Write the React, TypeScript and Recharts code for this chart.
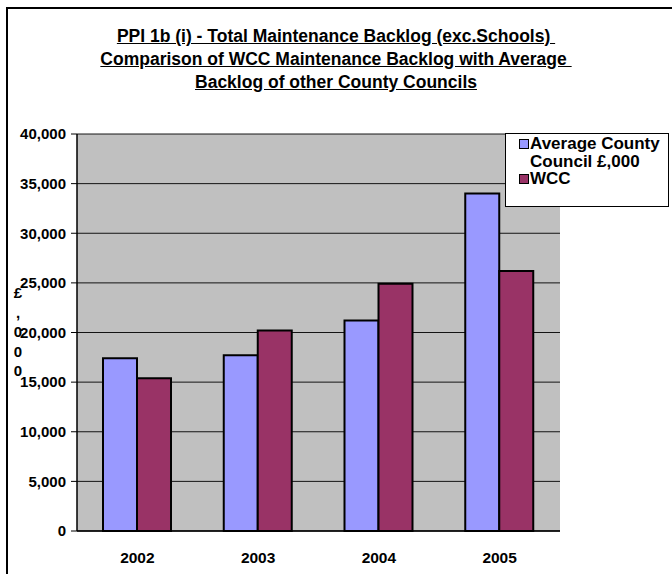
import React from "react";
import {BarChart, Bar, XAxis, YAxis, CartesianGrid} from "recharts";

const years = ["2002", "2003", "2004", "2005"];
const averageCounty = [17400, 17700, 21200, 34000];
const wcc = [15400, 20200, 24900, 26200];
const yTicks = [0, 5000, 10000, 15000, 20000, 25000, 30000, 35000, 40000];
const edgeTicks = [0, 1, 2, 3, 4];
const titleLines = [
    "PPI 1b (i) - Total Maintenance Backlog (exc.Schools) ",
    "Comparison of WCC Maintenance Backlog with Average ",
    "Backlog of other County Councils",
];
const axisLabelChars = ["£", ",", "0", "0", "0"];

const FONT = "'Liberation Sans', Arial, sans-serif";

const data = years.map((year, i) => ({
    year,
    avg: averageCounty[i],
    wcc: wcc[i],
}));

const legendItems = [
    {label: "Average County", label2: "Council £,000", color: "#9999FF"},
    {label: "WCC", label2: "", color: "#993366"},
];

// vertical "£,000" stacked one glyph per line
const StackedLabel = (props: any) => {
    return (
        <text x={18} y={298} textAnchor="middle" fontFamily={FONT} fontSize={15} fontWeight="bold" fill="#000">
            {axisLabelChars.map((c, i) => (
                <tspan key={i} x={18} dy={i === 0 ? 0 : 19.5}>{c}</tspan>
            ))}
        </text>
    );
};

const LegendBox = () => (
    <div style={{
        position: "absolute", left: 505, top: 133, width: 162, height: 71,
        border: "1px solid #000", background: "#fff",
        fontFamily: FONT, fontSize: 17, fontWeight: "bold", lineHeight: "17.5px",
        paddingTop: 1, boxSizing: "content-box",
    }}>
        {legendItems.map((it) => (
            <div key={it.label} style={{display: "flex", alignItems: "flex-start"}}>
                <span style={{
                    width: 8, height: 8, border: "1.5px solid #000", background: it.color,
                    marginLeft: 13, marginRight: 1, marginTop: 4, flex: "none",
                }}/>
                <span style={{whiteSpace: "nowrap"}}>{it.label}{it.label2 ? <><br/>{it.label2}</> : null}</span>
            </div>
        ))}
    </div>
);

const emptyTick = () => <g/>;

export default function App() {
    return (
        <div style={{position: "absolute", left: 0, top: 0, width: 672, height: 574, overflow: "hidden", background: "#fff"}}>
            <div style={{position: "absolute", left: 6, top: 7, width: 700, height: 620, border: "2px solid #000"}}/>
            <div style={{
                position: "absolute", left: 0, top: 25, width: 672, textAlign: "center",
                fontFamily: FONT, fontSize: 17.5, fontWeight: "bold", lineHeight: "23px",
            }}>
                {titleLines.map((t) => (
                    <div key={t} style={{whiteSpace: "pre"}}><span style={{textDecoration: "underline"}}>{t}</span></div>
                ))}
            </div>
            <div style={{position: "absolute", left: 0, top: 0}}>
                <BarChart width={672} height={574} data={data}
                    margin={{top: 134, right: 112, left: 0, bottom: 0}}
                    barCategoryGap={26} barGap={0}>
                    <CartesianGrid fill="#C0C0C0" vertical={false} stroke="#000" strokeOpacity={0.9}/>
                    <XAxis xAxisId="edges" type="number" domain={[0, 4]} ticks={edgeTicks} height={0}
                        axisLine={false} tickLine={{stroke: "#000"}} tickSize={6} tick={emptyTick}/>
                    <XAxis dataKey="year" height={43} axisLine={{stroke: "#000", strokeWidth: 1.5}}
                        tickLine={false} tickSize={0} tickMargin={21}
                        tick={{fill: "#000", fontSize: 15.5, fontWeight: "bold", fontFamily: FONT}}/>
                    <XAxis xAxisId="top" dataKey="year" orientation="top" height={0}
                        axisLine={{stroke: "#808080", strokeWidth: 2}} tickLine={false} tick={false}/>
                    <YAxis domain={[0, 40000]} ticks={yTicks} width={77} interval={0}
                        axisLine={{stroke: "#000", strokeWidth: 1.5}} tickLine={{stroke: "#000"}}
                        tickSize={6} tickMargin={5}
                        tickFormatter={(v: number) => v.toLocaleString("en-US")}
                        tick={{fill: "#000", fontSize: 15, fontWeight: "bold", fontFamily: FONT}}
                        label={<StackedLabel/>}/>
                    <YAxis yAxisId="right" orientation="right" domain={[0, 40000]} width={0}
                        axisLine={{stroke: "#808080", strokeWidth: 2}} tickLine={false} tick={false}/>
                    <Bar dataKey="avg" fill="#9999FF" stroke="#000" strokeWidth={2} isAnimationActive={false}/>
                    <Bar dataKey="wcc" fill="#993366" stroke="#000" strokeWidth={2} isAnimationActive={false}/>
                </BarChart>
            </div>
            <LegendBox/>
        </div>
    );
}
